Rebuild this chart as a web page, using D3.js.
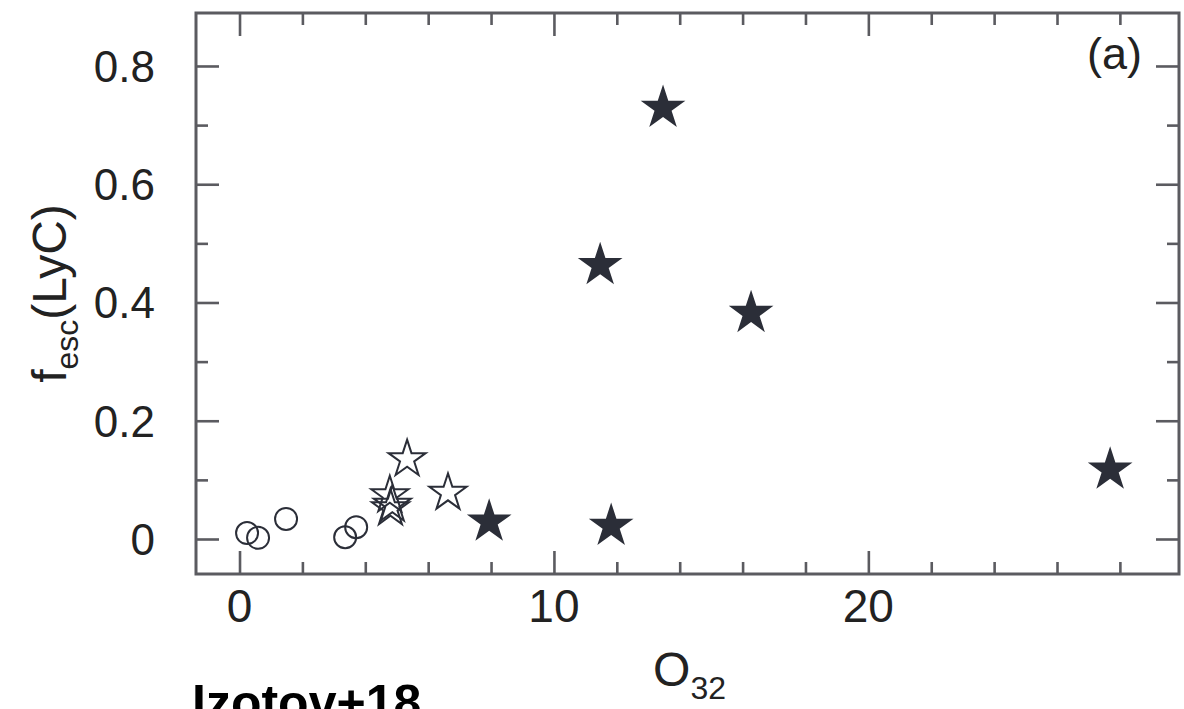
<!DOCTYPE html>
<html>
<head>
<meta charset="utf-8">
<script src="https://cdn.jsdelivr.net/npm/d3@7"></script>
<style>
  body { margin: 0; background: #fff; }
  svg { display: block; font-family: "Liberation Sans", Arial, Helvetica, sans-serif; }
  .narrow { font-family: "Liberation Sans Narrow", "Arial Narrow", "Liberation Sans", sans-serif; }
</style>
</head>
<body>
<svg id="chart" width="1184" height="709"></svg>
<script>
// ---- data ----
const filledStars = [
  [13.47, 0.729], [11.47, 0.463], [16.27, 0.382],
  [27.69, 0.117], [11.82, 0.022], [7.94, 0.029]
];
const openStars = [
  [5.33, 0.135], [6.63, 0.078],
  [4.78, 0.074], [4.86, 0.058], [4.80, 0.052]
];
const openCircles = [
  [0.24, 0.010], [0.59, 0.002], [1.48, 0.034], [3.36, 0.003], [3.71, 0.020]
];
const xMajor = [0, 10, 20];
const xMinor = [2, 4, 6, 8, 12, 14, 16, 18, 22, 24, 26, 28];
const yMajor = [0, 0.2, 0.4, 0.6, 0.8];
const yMinor = [0.1, 0.3, 0.5, 0.7];

const AXIS = "#5b5b60";
const INK = "#2b2e38";
const box = { left: 196, right: 1179, top: 13, bottom: 574 };

const svg = d3.select("#chart");

const x = d3.scaleLinear().domain([-1.384, 29.88]).range([box.left, box.right]);
const y = d3.scaleLinear().domain([-0.0592, 0.8896]).range([box.bottom, box.top]);

// ticks on all four sides, pointing inward
function tickAxis(axisFn, scale, values, size, transform) {
  const g = svg.append("g")
    .attr("transform", transform)
    .call(axisFn(scale).tickValues(values).tickSize(size).tickFormat(""));
  g.select(".domain").remove();
  g.selectAll(".tick line").attr("stroke", AXIS).attr("stroke-width", 2.6);
  return g;
}

tickAxis(d3.axisBottom, x, xMajor, -23, `translate(0,${box.bottom})`);
tickAxis(d3.axisBottom, x, xMinor, -12, `translate(0,${box.bottom})`);
tickAxis(d3.axisTop, x, xMajor, -23, `translate(0,${box.top})`);
tickAxis(d3.axisTop, x, xMinor, -12, `translate(0,${box.top})`);
tickAxis(d3.axisLeft, y, yMajor, -23, `translate(${box.left},0)`);
tickAxis(d3.axisLeft, y, yMinor, -12, `translate(${box.left},0)`);
tickAxis(d3.axisRight, y, yMajor, -23, `translate(${box.right},0)`);
tickAxis(d3.axisRight, y, yMinor, -12, `translate(${box.right},0)`);

// frame
svg.append("rect")
  .attr("x", box.left).attr("y", box.top)
  .attr("width", box.right - box.left).attr("height", box.bottom - box.top)
  .attr("fill", "none").attr("stroke", AXIS).attr("stroke-width", 3);

// tick labels
svg.append("g").attr("class", "narrow").selectAll("text").data(xMajor).join("text")
  .attr("x", d => x(d)).attr("y", 622)
  .attr("text-anchor", "middle").attr("font-size", 46).attr("fill", "#222")
  .text(d => d);

svg.append("g").selectAll("text").data(yMajor).join("text")
  .attr("x", 155).attr("y", d => y(d) + 16)
  .attr("text-anchor", "end").attr("font-size", 44).attr("fill", "#222")
  .text(d => d === 0 ? "0" : d.toFixed(1));

// axis titles
const xt = svg.append("text").attr("class", "narrow")
  .attr("x", (box.left + box.right) / 2 + 2).attr("y", 686)
  .attr("text-anchor", "middle").attr("font-size", 48).attr("fill", "#222");
xt.append("tspan").text("O");
xt.append("tspan").attr("font-size", 32).attr("dy", 13).text("32");

const yt = svg.append("text").attr("class", "narrow")
  .attr("transform", `translate(66,${(box.top + box.bottom) / 2}) rotate(-90)`)
  .attr("text-anchor", "middle").attr("font-size", 48).attr("fill", "#222");
yt.append("tspan").text("f");
yt.append("tspan").attr("font-size", 32).attr("dy", 12).text("esc");
yt.append("tspan").attr("dy", -12).text("(LyC)");

svg.append("text")
  .attr("x", 1142).attr("y", 69).attr("text-anchor", "end")
  .attr("font-size", 45).attr("fill", "#222").text("(a)");

svg.append("text")
  .attr("x", 192).attr("y", 720)
  .attr("font-size", 50).attr("font-weight", "bold").attr("fill", "#000")
  .text("Izotov+18");

// markers
const starSize = R => (R * R) / 0.8908130915292852;

svg.append("g").selectAll("circle").data(openCircles).join("circle")
  .attr("cx", d => x(d[0])).attr("cy", d => y(d[1])).attr("r", 11)
  .attr("fill", "none").attr("stroke", INK).attr("stroke-width", 2);

svg.append("g").selectAll("path").data(openStars).join("path")
  .attr("transform", d => `translate(${x(d[0])},${y(d[1])})`)
  .attr("d", d3.symbol(d3.symbolStar, starSize(19.5)))
  .attr("fill", "none").attr("stroke", INK).attr("stroke-width", 2);

svg.append("g").selectAll("path").data(filledStars).join("path")
  .attr("transform", d => `translate(${x(d[0])},${y(d[1])})`)
  .attr("d", d3.symbol(d3.symbolStar, starSize(23.5)))
  .attr("fill", INK);
</script>
</body>
</html>
